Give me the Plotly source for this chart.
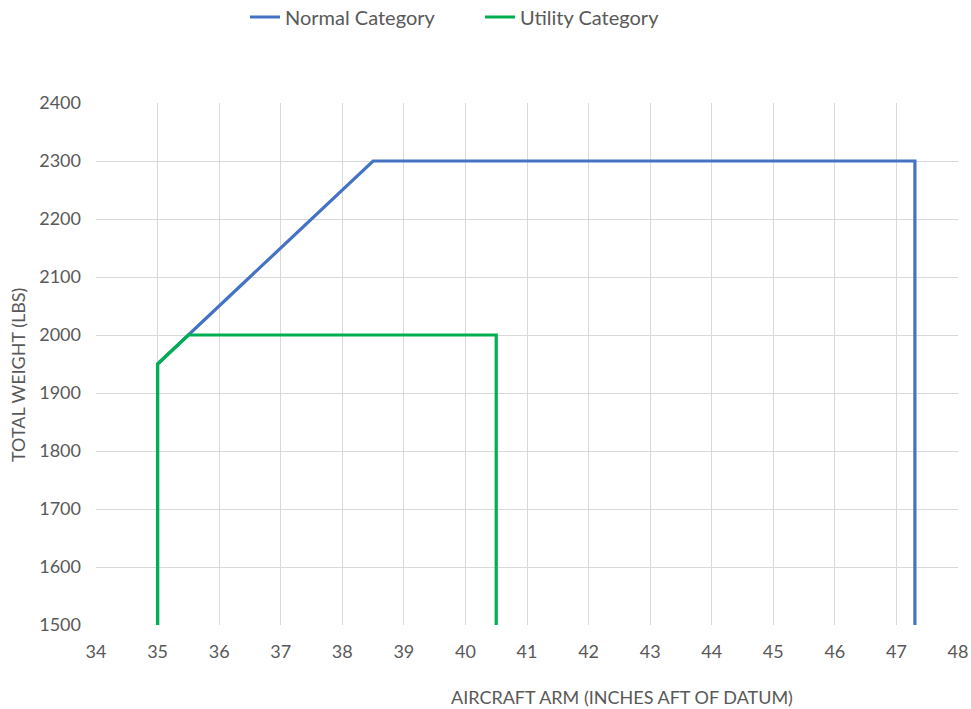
import plotly.graph_objects as go

normal_x = [35, 35, 38.5, 47.3, 47.3]
normal_y = [1500, 1950, 2300, 2300, 1500]
utility_x = [35, 35, 35.5, 40.5, 40.5]
utility_y = [1500, 1950, 2000, 2000, 1500]

x_ticks = list(range(34, 49))
y_ticks = list(range(1500, 2401, 100))

FONT = "Lato"
GREY = "#595959"

W, H = 971, 709
L, R, T, B = 96, 13, 103, 84
PW, PH = W - L - R, H - T - B

fig = go.Figure()
fig.add_trace(go.Scatter(x=normal_x, y=normal_y, mode="lines", name="Normal Category",
                         line=dict(color="#4472C4", width=3.2)))
fig.add_trace(go.Scatter(x=utility_x, y=utility_y, mode="lines", name="Utility Category",
                         line=dict(color="#00B050", width=3.2)))

fig.update_layout(
    width=W, height=H,
    margin=dict(l=L, r=R, t=T, b=B, autoexpand=False),
    plot_bgcolor="white", paper_bgcolor="white",
    font=dict(family=FONT, size=18, color=GREY),
    legend=dict(orientation="h", x=(480 - L) / PW, xanchor="center", xref="paper",
                y=1 + (T - 17) / PH, yanchor="middle", yref="paper",
                font=dict(size=20, color=GREY), entrywidth=190),
    xaxis=dict(range=[34, 48], tickvals=x_ticks, showgrid=True, gridcolor="#d9d9d9",
               gridwidth=1, zeroline=False, showline=False, ticks="",
               tickfont=dict(size=18), ticklabelstandoff=14),
    yaxis=dict(range=[1500, 2400], tickvals=y_ticks, showgrid=True, gridcolor="#d9d9d9",
               gridwidth=1, zeroline=False, showline=False, ticks="",
               tickfont=dict(size=18), ticklabelstandoff=14),
)
fig.add_annotation(text="AIRCRAFT ARM (INCHES AFT OF DATUM)", xref="paper", yref="paper",
                   x=(622 - L) / PW, y=-(697 - (T + PH)) / PH, xanchor="center", yanchor="middle",
                   showarrow=False, font=dict(size=18, color=GREY))
fig.add_annotation(text="TOTAL WEIGHT (LBS)", xref="paper", yref="paper", textangle=-90,
                   x=-(L - 18) / PW, y=((T + PH) - 375) / PH, xanchor="center", yanchor="middle",
                   showarrow=False, font=dict(size=18, color=GREY))

fig.write_html("out.html", config={"displayModeBar": False},
               post_script="document.body.style.margin='0';document.body.style.overflow='hidden';")
